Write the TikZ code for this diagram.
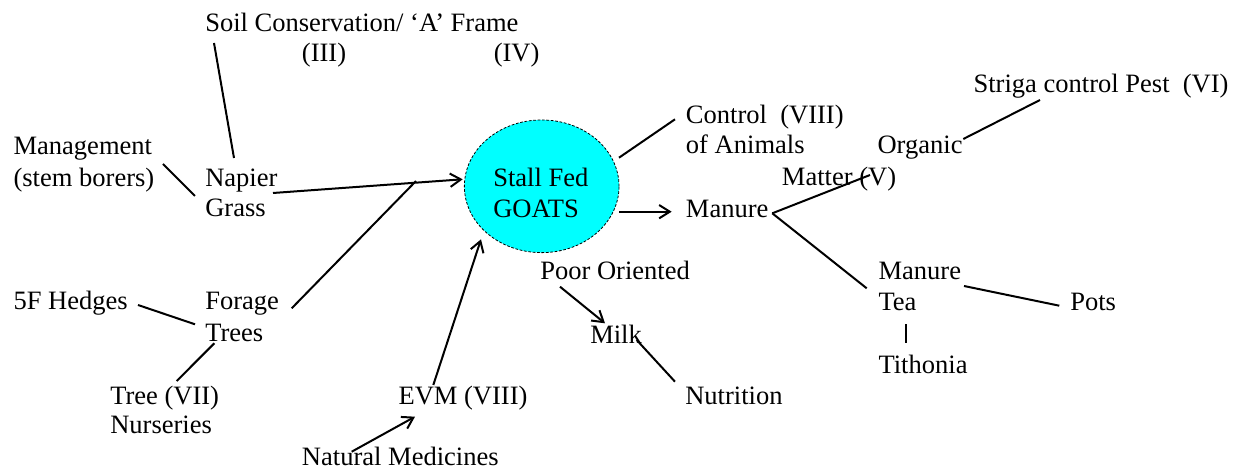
\documentclass[tikz,border=0pt]{standalone}
\usepackage{fontspec}
\setmainfont{Liberation Serif}
\usetikzlibrary{arrows.meta,shapes.geometric}
\definecolor{hubcyan}{RGB}{0,255,255}
\begin{document}
\begin{tikzpicture}[x=0.75pt,y=-0.75pt,
  lbl/.style={anchor=base west,inner sep=0pt,font=\fontsize{19.9pt}{23pt}\selectfont},
  ln/.style={line width=1.5pt},
  arr/.style={ln,-{Straight Barb[length=8pt,width=10pt,line width=1.5pt]}},
  hub/.style={ellipse,draw,dash pattern=on 2pt off 1.3pt,line width=0.6pt,fill=hubcyan,
    minimum width=116pt,minimum height=99.5pt,inner sep=0pt}]
\useasboundingbox (0,0) rectangle (1233,470);

% central hub
\node[hub] (goats) at (541.7,186.3) {};
\node[lbl] (stall) at (493,186.7) {Stall Fed};
\node[lbl] (goatst) at (493,217.3) {GOATS};

% labels
\node[lbl] (soil) at (205,31.7) {Soil Conservation/ ‘A’ Frame};
\node[lbl] (iii) at (301.7,62) {(III)};
\node[lbl] (iv) at (493.5,62) {(IV)};
\node[lbl] (mgmt) at (13.3,155) {Management};
\node[lbl] (borers) at (13.3,186.7) {(stem borers)};
\node[lbl] (napier) at (205,186.7) {Napier};
\node[lbl] (grass) at (205,216.7) {Grass};
\node[lbl] (hedges) at (13.3,310) {5F Hedges};
\node[lbl] (forage) at (205,310) {Forage};
\node[lbl] (trees) at (205,341.7) {Trees};
\node[lbl] (tree) at (110,405) {Tree (VII)};
\node[lbl] (nurs) at (110,434) {Nurseries};
\node[lbl] (evm) at (398.3,405) {EVM (VIII)};
\node[lbl] (natmed) at (301.7,465) {Natural Medicines};
\node[lbl] (control) at (685.7,123.3) {Control\ \ (VIII)};
\node[lbl] (animals) at (685.7,153.3) {of Animals};
\node[lbl] (manure) at (685.7,217.3) {Manure};
\node[lbl] (organic) at (877.3,154) {Organic};
\node[lbl] (matter) at (781.7,185.7) {Matter (V)};
\node[lbl] (striga) at (973.3,92.3) {Striga control Pest\ \ (VI)};
\node[lbl] (mtea) at (878.3,280) {Manure};
\node[lbl] (tea) at (878.3,311) {Tea};
\node[lbl] (tithonia) at (878.3,374) {Tithonia};
\node[lbl] (pots) at (1070,311) {Pots};
\node[lbl] (poor) at (540,280) {Poor Oriented};
\node[lbl] (milk) at (590,343.3) {Milk};
\node[lbl] (nutrition) at (685,405) {Nutrition};

% connector end points
\coordinate (soilA) at (214,43);     \coordinate (soilB) at (234,158);
\coordinate (mgmtA) at (163,164);    \coordinate (mgmtB) at (195,196);
\coordinate (napA) at (273,193);     \coordinate (napB) at (462.7,179.3);
\coordinate (forA) at (291.7,308.3); \coordinate (forB) at (416,181);
\coordinate (hedA) at (138,305);     \coordinate (hedB) at (195,324.3);
\coordinate (treA) at (176.7,381);   \coordinate (treB) at (214.3,343.3);
\coordinate (evmA) at (433.3,385);   \coordinate (evmB) at (481,239.3);
\coordinate (natA) at (351.7,451.7); \coordinate (natB) at (415,416.7);
\coordinate (conA) at (619,157.7);   \coordinate (conB) at (675,119.3);
\coordinate (manA) at (619,211.7);   \coordinate (manB) at (671.7,211.7);
\coordinate (fork) at (772.3,213.3);
\coordinate (matB) at (870,175);
\coordinate (teaB) at (866.7,288.3);
\coordinate (strA) at (963.3,139);   \coordinate (strB) at (1040,100);
\coordinate (potA) at (964,286);     \coordinate (potB) at (1059.3,305.7);
\coordinate (barA) at (906,324.3);   \coordinate (barB) at (906,342.7);
\coordinate (poorA) at (560,286.7);  \coordinate (poorB) at (605,323.3);
\coordinate (milkA) at (636.7,340);  \coordinate (milkB) at (675,381.7);

% connectors
\draw[ln] (soilA) -- (soilB);
\draw[ln] (mgmtA) -- (mgmtB);
\draw[arr] (napA) -- (napB);
\draw[ln] (forA) -- (forB);
\draw[ln] (hedA) -- (hedB);
\draw[ln] (treA) -- (treB);
\draw[arr] (evmA) -- (evmB);
\draw[arr] (natA) -- (natB);
\draw[ln] (conA) -- (conB);
\draw[arr] (manA) -- (manB);
\draw[ln] (fork) -- (matB);
\draw[ln] (fork) -- (teaB);
\draw[ln] (strA) -- (strB);
\draw[ln] (potA) -- (potB);
\draw[ln] (barA) -- (barB);
\draw[arr] (poorA) -- (poorB);
\draw[ln] (milkA) -- (milkB);
\end{tikzpicture}
\end{document}
